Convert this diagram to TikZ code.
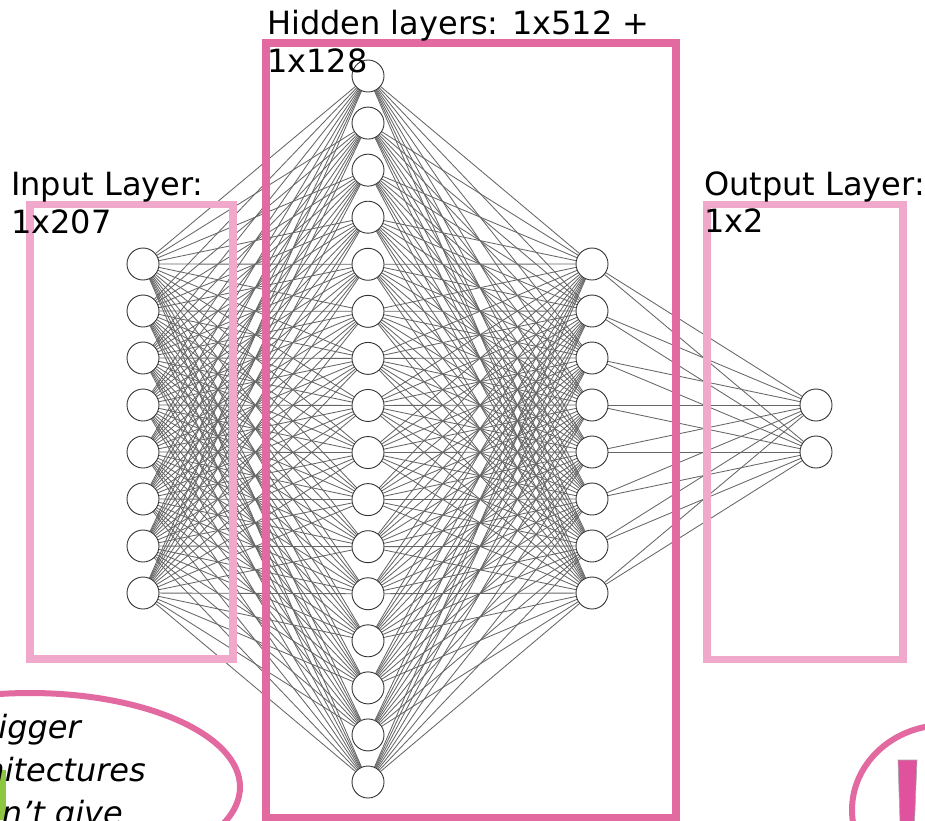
\documentclass[tikz,border=0pt]{standalone}
\usepackage{fontspec}
\setmainfont{DejaVu Sans}
\pgfdeclarelayer{background}
\pgfsetlayers{background,main}
\definecolor{boxlight}{RGB}{240,169,203}
\definecolor{boxdark}{RGB}{226,106,161}
\definecolor{leafgreen}{RGB}{141,198,63}
\definecolor{bangpink}{RGB}{224,82,158}
\tikzset{
  neuron/.style={circle, draw=black!80, fill=white, line width=0.9pt,
                 minimum size=32pt, inner sep=0pt},
  synapse/.style={draw=black!60, line width=0.85pt},
  lbl/.style={font=\fontsize{32}{38}\selectfont, inner sep=0pt, anchor=base west},
  note/.style={font=\fontsize{32}{43}\selectfont\itshape, inner sep=0pt, anchor=base east},
  layerbox/.style={line width=7.7pt},
}
\begin{document}
\begin{tikzpicture}[x=1pt,y=-1pt]
\useasboundingbox (0,0) rectangle (925,820);
\clip (0,0) rectangle (925,820);

% neurons of the four layers
\foreach \k in {1,...,8}
  \node[neuron] (i\k) at (143,{264+47*(\k-1)}) {};
\foreach \k in {1,...,16}
  \node[neuron] (a\k) at (368,{76+706*(\k-1)/15}) {};
\foreach \k in {1,...,8}
  \node[neuron] (b\k) at (592,{264+47*(\k-1)}) {};
\node[neuron] (o1) at (816,405) {};
\node[neuron] (o2) at (816,452) {};

% fully connected weights, behind the neurons
\begin{pgfonlayer}{background}
  \foreach \p in {1,...,8}
    \foreach \q in {1,...,16}
      \draw[synapse] (i\p) -- (a\q);
  \foreach \p in {1,...,16}
    \foreach \q in {1,...,8}
      \draw[synapse] (a\p) -- (b\q);
  \foreach \p in {1,...,8}
    \foreach \q in {1,2}
      \draw[synapse] (b\p) -- (o\q);
\end{pgfonlayer}

% layer frames
\draw[layerbox, boxlight] (30,204.5) rectangle (233,659);
\draw[layerbox, boxdark] (266,43) rectangle (676,817.5);
\draw[layerbox, boxlight] (707,204.5) rectangle (903,659.5);

% layer captions
\node[lbl] (inA) at (11,195) {Input Layer:};
\node[lbl] (inB) at (11,233) {1x207};
\node[lbl] (hidA) at (267,34) {Hidden layers: 1x512 +};
\node[lbl] (hidB) at (267,72) {1x128};
\node[lbl] (outA) at (704,195) {Output Layer:};
\node[lbl] (outB) at (704,232) {1x2};

% speech bubble, lower left
\fill[leafgreen] (0,770) rectangle (6,820);
\draw[boxdark, line width=6pt] (30,787) ellipse [x radius=210, y radius=94];
\node[note] (n1) at (81,738) {Bigger};
\node[note] (n2) at (146,781) {architectures};
\node[note] (n3) at (123,824) {don’t give};

% speech bubble, lower right
\draw[boxdark, line width=6pt] (945,810) ellipse [x radius=93, y radius=85];
\fill[bangpink, draw=black!35, line width=0.6pt]
  (898,760) -- (917,760) -- (914.5,822) -- (900,822) -- cycle;
\end{tikzpicture}
\end{document}
